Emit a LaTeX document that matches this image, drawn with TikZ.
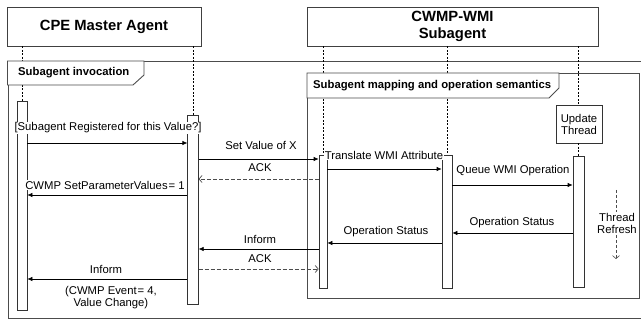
\documentclass[tikz,border=0pt]{standalone}
\usepackage{fontspec}
\setmainfont{Liberation Sans}
\usetikzlibrary{arrows.meta}
\begin{document}
\begin{tikzpicture}[x=1pt,y=-1pt,
  hdr/.style={draw=black!75, line width=0.8pt, fill=white, font=\fontsize{14.8}{17}\selectfont\bfseries, align=center, inner sep=0pt},
  lifeln/.style={draw=black, line width=0.6pt, dash pattern=on 2pt off 1.5pt},
  actbar/.style={draw=black!80, fill=white, line width=0.7pt, inner sep=0pt, anchor=north},
  msg/.style={draw=black, line width=0.7pt, -{Latex[length=5pt,width=4.5pt]}},
  reply/.style={draw=black!70, line width=0.7pt, dash pattern=on 4pt off 2pt, -{Straight Barb[length=3pt,width=7pt]}},
  lbl/.style={font=\fontsize{11.3}{12}\selectfont, inner sep=0.5pt, align=center},
  lblw/.style={lbl, fill=white},
  framebox/.style={draw=black!70, line width=0.9pt},
  tabtxt/.style={font=\fontsize{11.3}{13}\selectfont\bfseries, anchor=west, inner sep=0pt}
]
\useasboundingbox (0,0) rectangle (641,320);

% frames
\node[framebox, anchor=north west, minimum width=637pt, minimum height=257pt, inner sep=0pt] (outer) at (7.5,61) {};
\node[framebox, anchor=north west, minimum width=332pt, minimum height=225pt, inner sep=0pt] (inner) at (307,73) {};

% headers
\node[hdr, minimum width=194pt, minimum height=39pt] (cpe) at (104,26.5) {CPE Master Agent};
\node[hdr, minimum width=291pt, minimum height=39pt] (sub) at (452.5,26.5) {CWMP-WMI\\Subagent};

% lifeline x positions
\coordinate (l1) at (22,0);
\coordinate (l2) at (193,0);
\coordinate (l3) at (323,0);
\coordinate (l4) at (447,0);
\coordinate (l5) at (578.5,0);

\node[draw=black!80, fill=white, line width=0.7pt, minimum width=46pt, minimum height=38pt, lbl, inner sep=0pt] (upd) at (579,124) {Update\\Thread};

% lifelines
\draw[lifeln] (cpe.south -| l1) -- (22,101);
\draw[lifeln] (cpe.south -| l2) -- (193,115);
\draw[lifeln] (sub.south -| l3) -- (323,155);
\draw[lifeln] (sub.south -| l4) -- (447,155);
\draw[lifeln] (sub.south -| l5) -- (upd.north -| l5);
\draw[lifeln] (upd.south -| l5) -- (578.5,156);

% frame tabs
\draw[framebox, fill=white] (outer.north west) -- (144,61) -- (144,75) -- (133,85) -- (7.5,85) -- cycle;
\node[tabtxt] (inv) at (18,73) {Subagent invocation};
\draw[framebox, fill=white] (inner.north west) -- (559,73) -- (559,88) -- (549,98) -- (307,98) -- cycle;
\node[tabtxt] (map) at (313,86) {Subagent mapping and operation semantics};

% bars
\node[actbar, minimum width=10pt, minimum height=209pt] (b1) at (22,101) {};
\node[actbar, minimum width=10.5pt, minimum height=189pt] (b2) at (193,115) {};
\node[actbar, minimum width=8pt, minimum height=133pt] (b3) at (323,155) {};
\node[actbar, minimum width=10pt, minimum height=133pt] (b4) at (447,155) {};
\node[actbar, minimum width=11pt, minimum height=131pt] (b5) at (578.5,156) {};

% labels
\node[lblw] (t1) at (108,128) {[Subagent Registered for this Value?]};
\node[lbl] (t2) at (261,145) {Set Value of X};
\node[lbl] (t3) at (260,168) {ACK};
\node[lblw] (t4) at (105,185) {CWMP SetParameterValues\kern1pt= 1};
\node[lblw] (t5) at (384,155) {Translate WMI Attribute};
\node[lbl] (t6) at (513,171) {Queue WMI Operation};
\node[lbl] (t7) at (512,223) {Operation Status};
\node[lbl] (t8) at (386,232) {Operation Status};
\node[lbl] (t9) at (260,239) {Inform};
\node[lbl] (t10) at (260,259) {ACK};
\node[lbl] (t11) at (106,269) {Inform};
\node[lbl] (t12) at (111,298) {(CWMP Event\kern1pt= 4,\\Value Change)};

% thread refresh
\coordinate (trtop) at (616,190);
\coordinate (trbot) at (616,259);
\draw[draw=black!70, line width=0.6pt, dash pattern=on 3pt off 2pt, -{Straight Barb[length=3pt,width=7pt]}] (trtop) -- (trbot);
\node[lblw] (tr) at (617,223) {Thread\\Refresh};

% messages
\draw[msg] (b1.east |- 0,143) -- (b2.west |- 0,143);
\draw[msg] (b2.east |- 0,159) -- (b3.west |- 0,159);
\draw[reply] (b3.west |- 0,179) -- (b2.east |- 0,179);
\draw[msg] (b2.west |- 0,195) -- (b1.east |- 0,195);
\draw[msg] (b3.east |- 0,169) -- (b4.west |- 0,169);
\draw[msg] (b4.east |- 0,185) -- (b5.west |- 0,185);
\draw[msg] (b5.west |- 0,233) -- (b4.east |- 0,233);
\draw[msg] (b4.west |- 0,243) -- (b3.east |- 0,243);
\draw[msg] (b3.west |- 0,249) -- (b2.east |- 0,249);
\draw[reply] (b2.east |- 0,269) -- (b3.west |- 0,269);
\draw[msg] (b2.west |- 0,279) -- (b1.east |- 0,279);
\end{tikzpicture}
\end{document}
